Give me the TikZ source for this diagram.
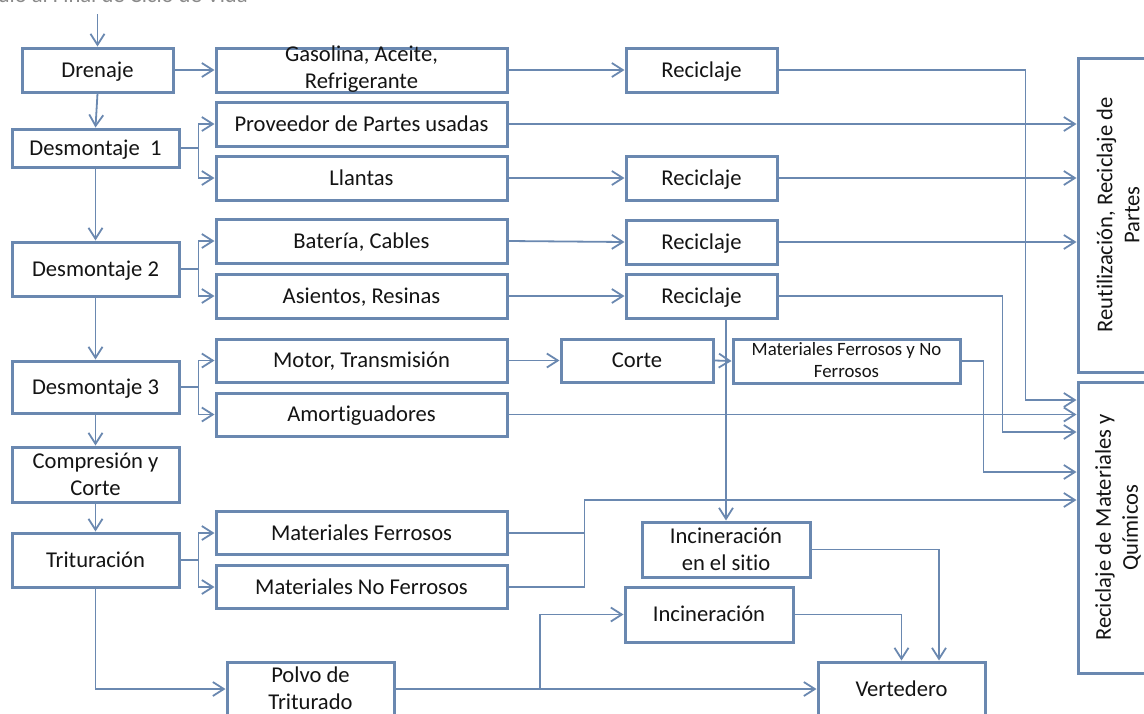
\documentclass[tikz,border=0pt]{standalone}
\usepackage{fontspec}
\setmainfont{Carlito}[Ligatures=NoCommon]
\usetikzlibrary{arrows.meta}
\definecolor{edge}{HTML}{6A88B0}
\definecolor{ink}{HTML}{141414}
\definecolor{capgray}{HTML}{8A8A8A}
\begin{document}
\begin{tikzpicture}[x=1pt,y=-1pt,
  box/.style={draw=edge, line width=3pt, fill=white, inner sep=0pt,
    text=ink, font=\fontsize{22.6}{27}\selectfont, text height=14pt, text depth=0pt},
  sbox/.style={box, minimum width=167pt, minimum height=54pt},
  wbox/.style={box, minimum width=291pt, minimum height=44pt},
  rbox/.style={box, minimum width=151pt, minimum height=44pt},
  bigbox/.style={box, minimum width=80pt},
  lbl/.style={inner sep=0pt, align=center, text=ink, font=\fontsize{22.6}{27}\selectfont},
  conn/.style={draw=edge, line width=1.8pt,
    -{Straight Barb[length=11pt,width=14pt,line width=1.8pt]}},
  wire/.style={draw=edge, line width=1.8pt}]
\useasboundingbox (0,0) rectangle (1144,713);
\clip (0,0) rectangle (1144,713);

% heading (mostly above the page)
\node[anchor=base east, inner sep=0pt, text=capgray,
  font=\fontsize{22.6}{27}\selectfont] (title) at (248,2.2) {Vehículo al Final de Ciclo de Vida};
\coordinate (start) at (97.5,14);

% main process column
\node[box, minimum width=151pt, minimum height=44pt] (dren) at (97.5,70) {Drenaje};
\node[box, minimum width=167pt, minimum height=38pt] (des1) at (95.5,148) {Desmontaje~~1};
\node[sbox] (des2) at (95.5,269) {Desmontaje 2};
\node[box, minimum width=167pt, minimum height=52pt] (des3) at (95.5,387) {Desmontaje 3};
\node[box, minimum width=167pt, minimum height=55pt] (comp) at (95.5,474.5) {};
\node[lbl] (comp-t) at (95.5,474) {Compresión y\\Corte};
\node[sbox] (trit) at (95.5,560) {Trituración};

% parts column
\node[wbox] (gas) at (361.5,70) {};
\node[lbl] (gas-t) at (361.5,69) {Gasolina, Aceite,\\Refrigerante};
\node[wbox] (prov) at (361.5,124) {Proveedor de Partes usadas};
\node[wbox] (llan) at (361.5,178) {Llantas};
\node[wbox] (bat) at (361.5,241) {Batería, Cables};
\node[wbox] (asi) at (361.5,296) {Asientos, Resinas};
\node[wbox, minimum height=43pt] (motor) at (361.5,360.5) {Motor, Transmisión};
\node[wbox, minimum height=43pt] (amort) at (361.5,414.5) {Amortiguadores};
\node[wbox, minimum height=43pt] (mf) at (361.5,533) {Materiales Ferrosos};
\node[wbox, minimum height=43pt] (mnf) at (361.5,587) {Materiales No Ferrosos};
\node[sbox] (polvo) at (310.5,689) {};
\node[lbl] (polvo-t) at (310.5,688) {Polvo de\\Triturado};

% recycling column
\node[rbox] (rec1) at (701.5,70) {Reciclaje};
\node[rbox] (rec2) at (701.5,178) {Reciclaje};
\node[rbox] (rec3) at (701.5,242) {Reciclaje};
\node[rbox] (rec4) at (701.5,296) {Reciclaje};
\node[box, minimum width=152pt, minimum height=43pt] (corte) at (637,360.5) {Corte};
\node[box, minimum width=227pt, minimum height=44pt] (mfnf) at (846.5,361) {};
\node[lbl, font=\fontsize{18.8}{22}\selectfont] (mfnf-t) at (846.5,360)
  {Materiales Ferrosos y No\\Ferrosos};
\node[box, minimum width=168pt, minimum height=55pt] (incs) at (726,549.5) {};
\node[lbl] (incs-t) at (726,549) {Incineración\\en el sitio};
\node[box, minimum width=168pt, minimum height=55pt] (inc) at (709,614.5) {Incineración};
\node[sbox] (vert) at (901.5,689) {Vertedero};

% destinations
\node[bigbox, minimum height=314pt] (reut) at (1118,215) {};
\node[lbl, rotate=90] (reut-t) at (1118,215) {Reutilización, Reciclaje de\\Partes};
\node[bigbox, minimum height=291pt] (recmq) at (1118,527.5) {};
\node[lbl, rotate=90] (recmq-t) at (1118,527.5) {Reciclaje de Materiales y\\Químicos};

% main column flow
\draw[conn] (start) -- (dren.north);
\draw[conn] (dren.south) -- (des1.north);
\draw[conn] (des1.south) -- (des2.north);
\draw[conn] (des2.south) -- (des3.north);
\draw[conn] (des3.south) -- (comp.north);
\draw[conn] (comp.south) -- (trit.north);

% branches out of each stage
\draw[conn] (dren.east) -- (gas.west);
\draw[wire] (des1.east) -- ++(18,0) coordinate (b1);
\draw[conn] (b1) |- (prov.west);
\draw[conn] (b1) |- (llan.west);
\draw[wire] (des2.east) -- ++(18,0) coordinate (b2);
\draw[conn] (b2) |- (bat.west);
\draw[conn] (b2) |- (asi.west);
\draw[wire] (des3.east) -- ++(18,0) coordinate (b3);
\draw[conn] (b3) |- (motor.west);
\draw[conn] (b3) |- (amort.west);
\draw[wire] (trit.east) -- ++(18,0) coordinate (b4);
\draw[conn] (b4) |- (mf.west);
\draw[conn] (b4) |- (mnf.west);
\draw[conn] (trit.south) |- (polvo.west);

% parts to recycling
\draw[conn] (gas.east) -- (rec1.west);
\draw[conn] (llan.east) -- (rec2.west);
\draw[conn] (bat.east) -- (rec3.west);
\draw[conn] (asi.east) -- (rec4.west);
\draw[conn] (motor.east) -- (corte.west);
\draw[conn] (corte.east) -- (mfnf.west);

% into reuse of parts
\draw[conn] (prov.east) -- (prov.east -| reut.west);
\draw[conn] (rec2.east) -- (rec2.east -| reut.west);
\draw[conn] (rec3.east) -- (rec3.east -| reut.west);

% into recycling of materials and chemicals
\draw[conn] (rec1.east) -- ++(247,0) |- (recmq.west |- 0,400);
\draw[conn] (amort.east) -- (amort.east -| recmq.west);
\draw[conn] (rec4.east) -- ++(224,0) |- (recmq.west |- 0,432);
\draw[conn] (mfnf.east) -- ++(22,0) |- (recmq.west |- 0,472);
\draw[wire] (mf.east) -- ++(76,0) coordinate (mj);
\draw[conn] (mnf.east) -| (mj) |- (recmq.west |- 0,500);

% incineration and landfill
\draw[conn] (incs.north |- rec4.south) -- (incs.north);
\draw[conn] (polvo.east) -- (vert.west);
\path (polvo.east) -- (vert.west) coordinate[pos=0.344] (pj);
\draw[conn] (pj) |- (inc.west);
\draw[conn] (inc.east) -| (vert.north);
\draw[conn] (incs.east) -| ([xshift=37.5pt]vert.north);
\end{tikzpicture}
\end{document}
